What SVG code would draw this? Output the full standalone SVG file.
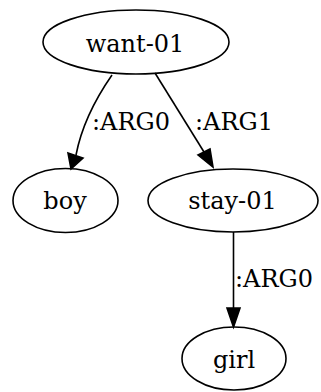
<svg xmlns="http://www.w3.org/2000/svg" width="321" height="392" viewBox="0 0 321 392">
<style>
.node ellipse{fill:none;stroke:#000;stroke-width:1.6}
text{font-family:"DejaVu Serif",serif;font-size:24px;fill:#000}
.node text{text-anchor:middle}
.edge path{fill:none;stroke:#000;stroke-width:1.6}
.edge polygon{fill:#000;stroke:#000;stroke-width:1.6}
</style>
<rect width="321" height="392" fill="#fff"/>
<g id="connectors">
<g class="edge" id="e1">
<path d="M112,75 C96,98 82,124 76,155"/>
<polygon points="68,153 83,158 71,169"/>
<text x="92" y="130">:ARG0</text>
</g>
<g class="edge" id="e2">
<path d="M155,73 L204,152"/>
<polygon points="198,155 210,149 213,167"/>
<text x="195" y="130">:ARG1</text>
</g>
<g class="edge" id="e3">
<path d="M233.5,232 L233.5,308"/>
<polygon points="227,308 240,308 233.5,327"/>
<text x="235" y="287">:ARG0</text>
</g>
</g>
<g class="node" id="want-01">
<ellipse cx="136" cy="42" rx="93" ry="32"/>
<text x="135" y="52">want-01</text>
</g>
<g class="node" id="boy">
<ellipse cx="65.5" cy="200.5" rx="52.5" ry="32"/>
<text x="65" y="209">boy</text>
</g>
<g class="node" id="stay-01">
<ellipse cx="233" cy="200.5" rx="85" ry="31.5"/>
<text x="232.5" y="209">stay-01</text>
</g>
<g class="node" id="girl">
<ellipse cx="234" cy="358.5" rx="52" ry="31.5"/>
<text x="234" y="368">girl</text>
</g>
</svg>
